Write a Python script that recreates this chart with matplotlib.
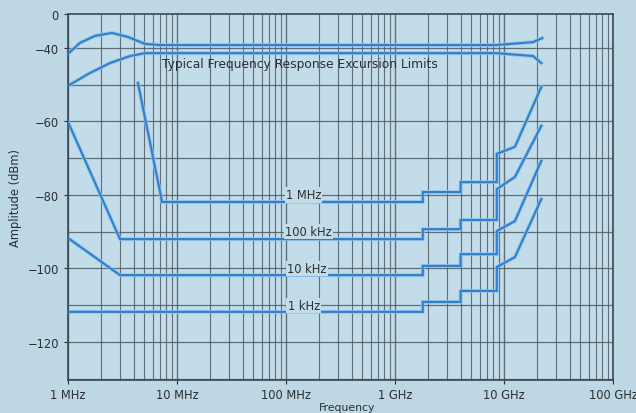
import matplotlib
matplotlib.use("Agg")
import matplotlib.pyplot as plt
import numpy as np

# excursion limits (top pair)
lim_hi_f = [1e6, 1.29e6, 1.77e6, 2.53e6, 3.55e6, 5.09e6, 6.97e6, 8.5e9, 18.5e9, 22.5e9]
lim_hi_db = [-41.6, -38.6, -36.7, -35.9, -37.0, -38.9, -39.2, -39.2, -38.4, -37.3]
lim_lo_f = [1e6, 1.59e6, 2.43e6, 3.7e6, 5.09e6, 8.5e9, 18.5e9, 22e9]
lim_lo_db = [-50.3, -46.8, -44.1, -42.2, -41.4, -41.4, -42.2, -44.1]

# noise floor curves per resolution bandwidth
rbw_names = ["1 MHz", "100 kHz", "10 kHz", "1 kHz"]
rbw_f = [
    [4.38e6, 7.3e6, 1.8e9, 1.8e9, 4e9, 4e9, 8.6e9, 8.6e9, 12.6e9, 22e9],
    [1e6, 3e6, 1.8e9, 1.8e9, 4e9, 4e9, 8.6e9, 8.6e9, 12.6e9, 22e9],
    [1e6, 3e6, 1.8e9, 1.8e9, 4e9, 4e9, 8.6e9, 8.6e9, 12.6e9, 22e9],
    [1e6, 1.8e9, 1.8e9, 4e9, 4e9, 8.6e9, 8.6e9, 12.6e9, 22e9],
]
rbw_db = [
    [-49.5, -81.9, -81.9, -79.2, -79.2, -76.5, -76.5, -68.8, -66.9, -50.6],
    [-60.1, -92.0, -92.0, -89.3, -89.3, -86.8, -86.8, -78.4, -75.1, -61.2],
    [-91.7, -101.8, -101.8, -99.3, -99.3, -96.1, -96.1, -89.8, -87.1, -70.7],
    [-111.8, -111.8, -109.1, -109.1, -106.1, -106.1, -99.6, -96.9, -81.1],
]
label_db = [-80, -90, -100, -110]
label_f = [1.45e8, 1.6e8, 1.55e8, 1.45e8]

bg = "#bdd7e5"
grid_c = "#4d5c66"
line_c = "#2f80cf"
txt_c = "#2a2f33"

fig = plt.figure(figsize=(6.36, 4.14), dpi=100, facecolor=bg)
ax = fig.add_axes([0.1069, 0.0797, 0.8569, 0.8841])
ax.set_facecolor("#c3dcea")
ax.set_xscale("log")
ax.set_xlim(1e6, 1e11)
ax.set_ylim(-130.34, -30.75)

# grid
for d in range(6, 11):
    for m in range(1, 10):
        ax.axvline(m * 10.0**d, color=grid_c, lw=0.8 if m > 1 else 1.0, alpha=0.85, zorder=1)
for yv in range(-130, -30, 10):
    ax.axhline(yv, color=grid_c, lw=0.9, alpha=0.85, zorder=1)

# curves with a light halo like the print
def draw(f, db):
    ax.plot(f, db, color="#8fc0ea", lw=2.8, alpha=0.8, solid_joinstyle="miter", zorder=2)
    ax.plot(f, db, color=line_c, lw=1.5, solid_joinstyle="miter", zorder=3)

draw(lim_hi_f, lim_hi_db)
draw(lim_lo_f, lim_lo_db)
for f, db in zip(rbw_f, rbw_db):
    draw(f, db)

ax.text(7.3e6, -44.3, "Typical Frequency Response Excursion Limits", fontsize=8.8,
        color=txt_c, va="center", ha="left", zorder=4)
for name, xf, yv in zip(rbw_names, label_f, label_db):
    ax.text(xf, yv, name, fontsize=8.3, color=txt_c, ha="center", va="center",
            bbox=dict(boxstyle="square,pad=0.1", fc="#c3dcea", ec="none"), zorder=4)

ax.set_xticks([1e6, 1e7, 1e8, 1e9, 1e10, 1e11])
ax.set_xticklabels(["1 MHz", "10 MHz", "100 MHz", "1 GHz", "10 GHz", "100 GHz"])
ax.set_yticks([-30.75, -40, -60, -80, -100, -120])
ax.set_yticklabels(["0", "\u221240", "\u221260", "\u221280", "\u2212100", "\u2212120"])
ax.minorticks_off()
ax.tick_params(axis="both", labelsize=8.3, colors=txt_c, length=3, width=0.8)
ax.tick_params(axis="x", pad=3)
for s in ax.spines.values():
    s.set_color("#3b4750")
    s.set_linewidth(1.2)

ax.set_ylabel("Amplitude (dBm)", fontsize=8.3, color=txt_c, labelpad=4)
fig.text(0.545, 0.002, "Frequency", fontsize=7.8, color=txt_c, ha="center", va="bottom")

fig.savefig("out.png", dpi=100, facecolor=bg)
